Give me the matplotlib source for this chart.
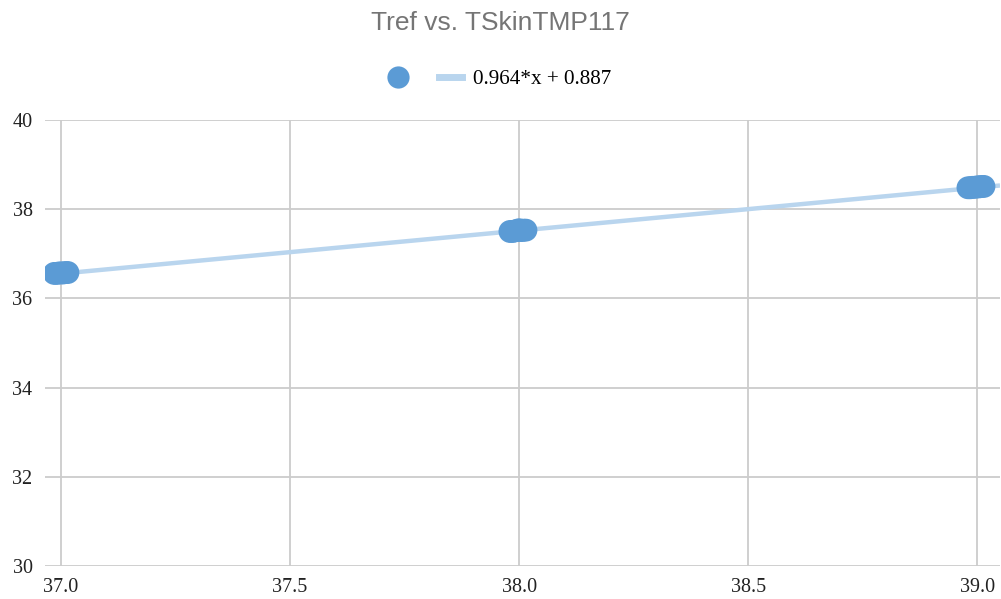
import matplotlib
matplotlib.use("Agg")
import matplotlib.pyplot as plt
from matplotlib.lines import Line2D
import numpy as np

# Measurements: reference temperature vs. TMP117 skin temperature
tref = [36.985, 36.99, 36.995, 37.0, 37.005, 37.01, 37.015,
        37.98, 37.985, 37.99, 37.995, 38.0, 38.005, 38.01, 38.015,
        38.98, 38.985, 38.99, 38.995, 39.0, 39.005, 39.01, 39.015]
tskin = [36.56, 36.56, 36.57, 36.57, 36.57, 36.58, 36.58,
         37.50, 37.50, 37.51, 37.52, 37.54, 37.52, 37.53, 37.53,
         38.48, 38.48, 38.49, 38.49, 38.50, 38.50, 38.51, 38.51]

slope = 0.964
intercept = 0.887

x_ticks = [37.0, 37.5, 38.0, 38.5, 39.0]
y_ticks = [30, 32, 34, 36, 38, 40]
x_lim = (36.965, 39.05)
y_lim = (30, 40)

point_color = "#5b9bd5"
line_color = "#b9d5ee"
grid_color = "#cccccc"

fig = plt.figure(figsize=(10.01, 5.99), dpi=100)
ax = fig.add_axes([0.045, 0.0551, 0.954, 0.7446])

ax.set_xlim(*x_lim)
ax.set_ylim(*y_lim)

# Trend line across the full plot width
xs = np.array(x_lim)
ax.plot(xs, slope * xs + intercept, color=line_color, lw=3.2, zorder=2,
        solid_capstyle="butt")

ax.scatter(tref, tskin, s=270, color=point_color, edgecolors="none", zorder=3)

ax.set_xticks(x_ticks)
ax.set_yticks(y_ticks)
ax.set_xticklabels([f"{v:.1f}" for v in x_ticks])
ax.set_yticklabels([str(v) for v in y_ticks])
ax.tick_params(length=0, labelsize=14.5, pad=9)
for lbl in ax.get_xticklabels() + ax.get_yticklabels():
    lbl.set_fontfamily("Liberation Serif")
    lbl.set_color("#222222")

ax.grid(True, color=grid_color, lw=1.3)
ax.set_axisbelow(True)
for sp in ax.spines.values():
    sp.set_visible(False)

fig.text(0.5, 0.962, "Tref vs. TSkinTMP117", ha="center", va="center",
         fontsize=19, color="#757575", fontfamily="Liberation Sans")

handles = [
    Line2D([], [], ls="none", marker="o", markersize=16,
           markerfacecolor=point_color, markeredgecolor="none"),
    Line2D([], [], color=line_color, lw=5),
]
fig.legend(handles, ["", f"{slope}*x + {intercept}"], loc="center",
           bbox_to_anchor=(0.498, 0.868), ncol=2, frameon=False,
           prop={"family": "Liberation Serif", "size": 15.2},
           handlelength=1.1, columnspacing=0.9, handletextpad=0.5)

fig.savefig("out.png", dpi=100)
